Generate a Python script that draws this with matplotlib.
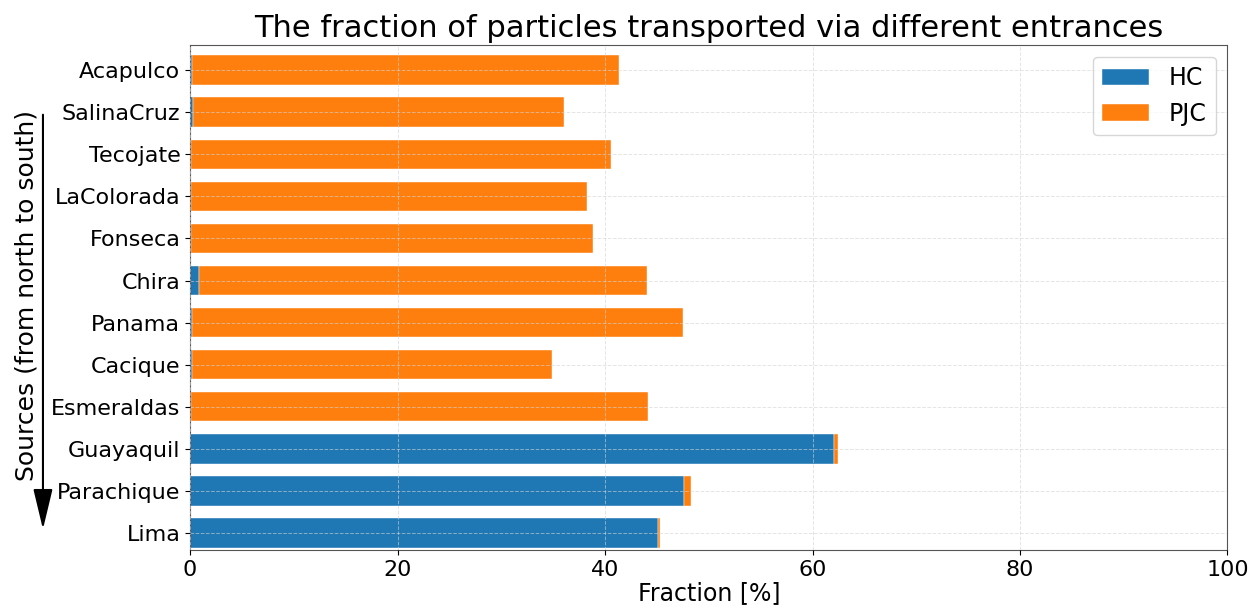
import matplotlib
matplotlib.use('Agg')
import matplotlib.pyplot as plt
import numpy as np

sources = ['Acapulco', 'SalinaCruz', 'Tecojate', 'LaColorada', 'Fonseca', 'Chira',
           'Panama', 'Cacique', 'Esmeraldas', 'Guayaquil', 'Parachique', 'Lima']
hc = [0.2, 0.3, 0.05, 0.05, 0.1, 0.9, 0.2, 0.2, 0.05, 62.1, 47.6, 45.1]
pjc = [41.1, 35.7, 40.5, 38.2, 38.7, 43.1, 47.3, 34.7, 44.1, 0.4, 0.7, 0.2]

plt.rcParams['font.size'] = 16
fig = plt.figure(figsize=(12.56, 6.15), dpi=100)
ax = fig.add_axes([0.1513, 0.106, 0.826, 0.821])

y = np.arange(len(sources))
ax.barh(y, hc, height=0.7, color='#1f77b4', label='HC', edgecolor='white', linewidth=0.3)
ax.barh(y, pjc, left=hc, height=0.7, color='#ff7f0e', label='PJC', edgecolor='white', linewidth=0.3)
ax.set_yticks(y)
ax.set_yticklabels(sources)
ax.invert_yaxis()
ax.set_ylim(len(sources) - 0.6, -0.6)
ax.set_xlim(0, 100)
ax.grid(True, linestyle='--', color='lightgray', alpha=0.6, linewidth=0.7)
ax.set_axisbelow(False)
for s in ax.spines.values():
    s.set_color('#555555')
ax.set_xlabel('Fraction [%]', fontsize=17, labelpad=1)
ax.set_title('The fraction of particles transported via different entrances', fontsize=22)
ax.legend(loc='upper right', fontsize=17)

fig.text(0.021, 0.52, 'Sources (from north to south)', rotation=90, fontsize=18,
         va='center', ha='center')
fig.patches.append(matplotlib.patches.FancyArrowPatch(
    (0.0342, 0.818), (0.0342, 0.135), transform=fig.transFigure,
    arrowstyle='-|>,head_length=1.25,head_width=0.3', mutation_scale=20,
    color='black', linewidth=1.5))

plt.savefig('out.png')
